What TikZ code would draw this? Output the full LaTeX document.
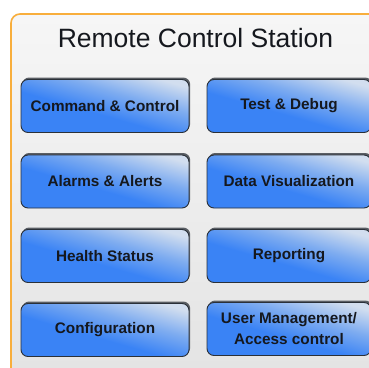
\documentclass[tikz,border=0pt]{standalone}
\usepackage{fontspec}
\setmainfont{Liberation Sans}
\usetikzlibrary{shadows}
\definecolor{bblue}{HTML}{3A83F5}
\definecolor{bmid}{HTML}{7EACF0}
\definecolor{blight}{HTML}{D2DEEF}
\definecolor{bdark}{HTML}{2A3038}
\definecolor{shad}{HTML}{5A5E64}
\definecolor{frameorange}{HTML}{F8AE3C}
\definecolor{bgtop}{HTML}{F6F6F6}
\definecolor{bgbot}{HTML}{E3E3E3}
\definecolor{txt}{HTML}{15181E}
\pgfdeclareverticalshading{btnshade}{100bp}{color(0bp)=(bblue); color(44bp)=(bblue); color(60bp)=(bmid); color(76bp)=(blight); color(100bp)=(blight)}
\tikzset{
  btn/.style={rounded corners=7pt, draw=bdark, line width=0.9pt,
    shading=btnshade, shading angle=-16,
    general shadow={shadow xshift=1.2pt, shadow yshift=2pt, fill=shad, rounded corners=7pt},
    minimum height=53pt, inner sep=0pt, align=center, text=txt,
    font=\bfseries\fontsize{15.3}{21}\selectfont},
  lbtn/.style={btn, minimum width=168pt},
  rbtn/.style={btn, minimum width=164pt},
  titlestyle/.style={font=\fontsize{26.5}{30}\selectfont, text=txt, inner sep=0pt}
}
\begin{document}
\begin{tikzpicture}[x=1pt,y=-1pt]
\useasboundingbox (0,0) rectangle (369,367);
\begin{scope}
\clip (0,0) rectangle (369,367);
\fill[white] (0,0) rectangle (369,367);
\shade[top color=bgtop, bottom color=bgbot, rounded corners=9pt] (11,14) rectangle (390,390);
\draw[frameorange, line width=1.6pt, rounded corners=9pt] (11,390) -- (11,14) -- (390,14);
\node[titlestyle] (title) at (195.5,38) {Remote Control Station};
\node[lbtn] (cc) at (105,106) {Command \& Control};
\node[rbtn] (td) at (289,106) {Test \& Debug};
\node[lbtn] (aa) at (105,181.5) {Alarms \& Alerts};
\node[rbtn] (dv) at (289,181.5) {Data Visualization};
\node[lbtn] (hs) at (105,256) {Health Status};
\node[rbtn] (rp) at (289,256) {Reporting};
\node[lbtn] (cf) at (105,330) {Configuration};
\node[rbtn] (um) at (289,329) {User Management/\\Access control};
\end{scope}
\end{tikzpicture}
\end{document}
